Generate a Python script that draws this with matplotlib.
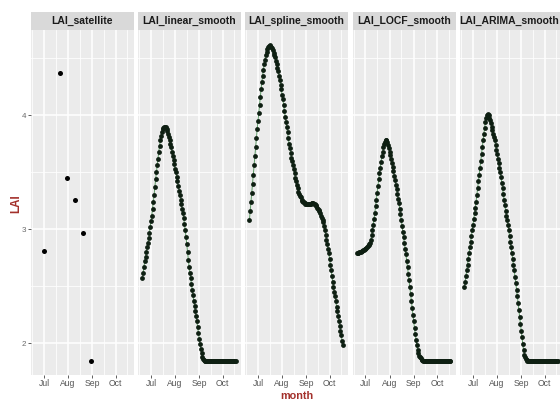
import matplotlib
matplotlib.use("Agg")
import matplotlib.pyplot as plt
import matplotlib.dates as mdates
import numpy as np
import pandas as pd

plt.rcParams['font.family'] = ['Liberation Sans', 'DejaVu Sans']

# ---------------- data ----------------
panel_titles = ["LAI_satellite", "LAI_linear_smooth", "LAI_spline_smooth",
                "LAI_LOCF_smooth", "LAI_ARIMA_smooth"]

sat_dates = ["2019-07-01", "2019-07-21", "2019-07-31", "2019-08-10",
             "2019-08-20", "2019-08-30"]
sat_values = [2.81, 4.37, 3.45, 3.26, 2.97, 1.84]

smooth_start = "2019-06-20"

linear_smooth = [
    2.57, 2.62, 2.67, 2.72, 2.76, 2.80, 2.84, 2.88, 2.92, 2.97,
    3.02, 3.07, 3.12, 3.18, 3.24, 3.30, 3.37, 3.44, 3.50, 3.56,
    3.62, 3.68, 3.73, 3.78, 3.82, 3.85, 3.88, 3.89, 3.90, 3.90,
    3.90, 3.88, 3.86, 3.84, 3.81, 3.78, 3.75, 3.72, 3.68, 3.64,
    3.61, 3.57, 3.53, 3.50, 3.46, 3.42, 3.38, 3.34, 3.30, 3.26,
    3.22, 3.18, 3.14, 3.10, 3.05, 2.99, 2.93, 2.87, 2.80, 2.73,
    2.67, 2.62, 2.57, 2.52, 2.47, 2.42, 2.37, 2.33, 2.28, 2.24,
    2.19, 2.14, 2.09, 2.04, 1.99, 1.95, 1.91, 1.88, 1.86, 1.85,
    1.845, 1.84, 1.84, 1.84, 1.84, 1.84, 1.84, 1.84, 1.84, 1.84,
    1.84, 1.84, 1.84, 1.84, 1.84, 1.84, 1.84, 1.84, 1.84, 1.84,
    1.84, 1.84, 1.84, 1.84, 1.84, 1.84, 1.84, 1.84, 1.84, 1.84,
    1.84, 1.84, 1.84, 1.84, 1.84, 1.84, 1.84, 1.84, 1.84, 1.84,
    1.84,
]

spline_smooth = [
    3.08, 3.16, 3.24, 3.32, 3.40, 3.48, 3.56, 3.64, 3.72, 3.80,
    3.88, 3.95, 4.02, 4.09, 4.16, 4.23, 4.29, 4.35, 4.40, 4.45,
    4.49, 4.53, 4.56, 4.58, 4.60, 4.61, 4.615, 4.61, 4.60, 4.59,
    4.57, 4.55, 4.53, 4.51, 4.48, 4.45, 4.42, 4.39, 4.35, 4.31,
    4.27, 4.23, 4.18, 4.14, 4.09, 4.04, 3.99, 3.94, 3.90, 3.85,
    3.80, 3.75, 3.71, 3.67, 3.63, 3.60, 3.56, 3.53, 3.49, 3.45,
    3.42, 3.39, 3.36, 3.33, 3.31, 3.29, 3.28, 3.26, 3.25, 3.24,
    3.235, 3.23, 3.225, 3.22, 3.22, 3.22, 3.22, 3.22, 3.22, 3.225,
    3.23, 3.23, 3.23, 3.225, 3.22, 3.21, 3.20, 3.19, 3.18, 3.17,
    3.16, 3.14, 3.12, 3.10, 3.08, 3.06, 3.03, 2.99, 2.95, 2.91,
    2.87, 2.83, 2.79, 2.74, 2.69, 2.64, 2.59, 2.54, 2.49, 2.45,
    2.41, 2.37, 2.32, 2.28, 2.24, 2.19, 2.15, 2.11, 2.07, 2.02,
    1.98,
]

locf_smooth = [
    2.79, 2.79, 2.795, 2.80, 2.80, 2.80, 2.805, 2.81, 2.815, 2.82,
    2.825, 2.83, 2.835, 2.84, 2.85, 2.86, 2.87, 2.88, 2.91, 2.95,
    2.99, 3.04, 3.09, 3.14, 3.20, 3.26, 3.32, 3.38, 3.44, 3.49,
    3.54, 3.59, 3.64, 3.68, 3.72, 3.75, 3.77, 3.785, 3.785, 3.77,
    3.74, 3.71, 3.68, 3.65, 3.62, 3.58, 3.55, 3.51, 3.47, 3.43,
    3.39, 3.35, 3.31, 3.27, 3.23, 3.18, 3.13, 3.08, 3.03, 2.98,
    2.93, 2.88, 2.83, 2.78, 2.72, 2.67, 2.61, 2.55, 2.49, 2.43,
    2.37, 2.31, 2.25, 2.19, 2.13, 2.08, 2.03, 1.98, 1.94, 1.91,
    1.89, 1.875, 1.865, 1.855, 1.85, 1.845, 1.843, 1.84, 1.84, 1.84,
    1.84, 1.84, 1.84, 1.84, 1.84, 1.84, 1.84, 1.84, 1.84, 1.84,
    1.84, 1.84, 1.84, 1.84, 1.84, 1.84, 1.84, 1.84, 1.84, 1.84,
    1.84, 1.84, 1.84, 1.84, 1.84, 1.84, 1.84, 1.84, 1.84, 1.84,
    1.84,
]

arima_smooth = [
    2.49, 2.54, 2.59, 2.64, 2.69, 2.74, 2.79, 2.84, 2.89, 2.94,
    2.99, 3.04, 3.09, 3.14, 3.19, 3.24, 3.30, 3.36, 3.42, 3.48,
    3.54, 3.60, 3.66, 3.72, 3.78, 3.84, 3.89, 3.94, 3.98, 4.00,
    4.01, 4.00, 3.98, 3.96, 3.93, 3.90, 3.87, 3.84, 3.81, 3.78,
    3.74, 3.70, 3.66, 3.62, 3.58, 3.54, 3.50, 3.46, 3.41, 3.36,
    3.31, 3.26, 3.21, 3.16, 3.12, 3.08, 3.04, 2.99, 2.94, 2.89,
    2.84, 2.79, 2.74, 2.69, 2.64, 2.58, 2.53, 2.47, 2.41, 2.35,
    2.29, 2.23, 2.17, 2.11, 2.05, 1.99, 1.94, 1.90, 1.875, 1.86,
    1.85, 1.845, 1.84, 1.84, 1.84, 1.84, 1.84, 1.84, 1.84, 1.84,
    1.84, 1.84, 1.84, 1.84, 1.84, 1.84, 1.84, 1.84, 1.84, 1.84,
    1.84, 1.84, 1.84, 1.84, 1.84, 1.84, 1.84, 1.84, 1.84, 1.84,
    1.84, 1.84, 1.84, 1.84, 1.84, 1.84, 1.84, 1.84, 1.84, 1.84,
    1.84,
]

x_tick_dates = ["2019-07-01", "2019-08-01", "2019-09-01", "2019-10-01"]
x_tick_labels = ["Jul", "Aug", "Sep", "Oct"]
x_minor_dates = ["2019-06-16", "2019-07-16", "2019-08-16", "2019-09-16", "2019-10-16"]
y_ticks = [2, 3, 4]
y_minor = [2.5, 3.5, 4.5]

# ---------------- layout ----------------
W, H = 560, 401
fig = plt.figure(figsize=(W / 100, H / 100), dpi=100)
fig.patch.set_facecolor("white")

def rect(x0, x1, y0, y1):
    return [x0 / W, 1 - y1 / H, (x1 - x0) / W, (y1 - y0) / H]

panel_left = [31, 138, 245, 352.5, 460]
panel_w = 103
strip_top, panel_top, panel_bot = 12, 30, 375

smooth_dates = pd.date_range(smooth_start, periods=len(linear_smooth), freq="D")
series = [None, linear_smooth, spline_smooth, locf_smooth, arima_smooth]

xlo = mdates.date2num(pd.Timestamp("2019-06-14 08:00"))
xhi = mdates.date2num(pd.Timestamp("2019-10-24 16:00"))

BG = "#EBEBEB"
tick_col = "#555555"
title_col = "#A3302B"
dot_col = "#0E1F12"
line_col = "#5E9A66"

for i, x0 in enumerate(panel_left):
    ax = fig.add_axes(rect(x0, x0 + panel_w, panel_top, panel_bot))
    ax.set_facecolor(BG)
    for s in ax.spines.values():
        s.set_visible(False)
    ax.set_xlim(xlo, xhi)
    ax.set_ylim(1.72, 4.75)
    ax.set_xticks(mdates.date2num(pd.to_datetime(x_tick_dates)))
    ax.set_xticklabels(x_tick_labels)
    ax.set_xticks(mdates.date2num(pd.to_datetime(x_minor_dates)), minor=True)
    ax.set_yticks(y_ticks)
    ax.set_yticks(y_minor, minor=True)
    ax.grid(which="major", color="white", lw=1.1, zorder=0)
    ax.grid(which="minor", color="white", lw=0.55, zorder=0)
    ax.set_axisbelow(True)
    ax.tick_params(which="major", length=2.0, width=0.6, color="#444444",
                   labelsize=6.2, labelcolor=tick_col, pad=1.0)
    ax.tick_params(axis="y", which="major", labelsize=5.8, labelcolor="#6A6A6A",
                   pad=1.5)
    ax.tick_params(which="minor", length=0)
    if i > 0:
        ax.tick_params(axis="y", which="both", left=False, labelleft=False)

    if i == 0:
        ax.scatter(mdates.date2num(pd.to_datetime(sat_dates)), sat_values,
                   s=13, color="black", zorder=3, linewidths=0)
    else:
        xs = mdates.date2num(smooth_dates)
        ax.plot(xs, series[i], color=line_col, lw=0.7, zorder=2)
        ax.scatter(xs, series[i], s=12, color=dot_col, zorder=3, linewidths=0)

    sax = fig.add_axes(rect(x0, x0 + panel_w, strip_top, panel_top))
    sax.set_facecolor("#D9D9D9")
    sax.set_xticks([]); sax.set_yticks([])
    for s in sax.spines.values():
        s.set_visible(False)
    # centre of the visible part of the strip (last strip runs off the edge)
    cx = (x0 + min(x0 + panel_w, W - 1)) / 2
    fig.text(cx / W, 1 - (strip_top + panel_top) / 2 / H, panel_titles[i],
             ha="center", va="center", fontsize=7.5, fontweight="bold",
             color="#1A1A1A")

fig.text(16 / W, 1 - 204 / H, "LAI", rotation=90, ha="center", va="center",
         fontsize=8.4, fontweight="bold", color=title_col)
fig.text(297 / W, 0.0, "month", ha="center", va="bottom",
         fontsize=7.8, fontweight="bold", color=title_col)

fig.savefig("out.png", dpi=100)
